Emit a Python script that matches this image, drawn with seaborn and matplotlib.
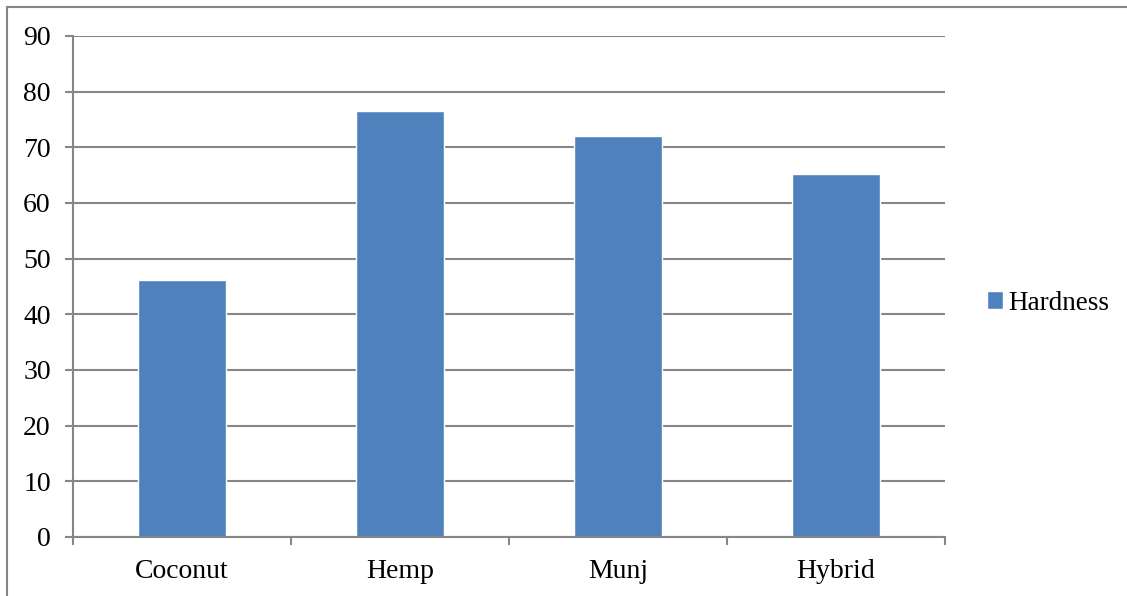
import matplotlib
matplotlib.use("Agg")
import matplotlib.pyplot as plt
from matplotlib.lines import Line2D
import seaborn as sns
import pandas as pd

categories = ["Coconut", "Hemp", "Munj", "Hybrid"]
hardness = [46.2, 76.5, 72.0, 65.2]
y_ticks = [0, 10, 20, 30, 40, 50, 60, 70, 80, 90]

df = pd.DataFrame({"Fibre": categories, "Hardness": hardness})

sns.set_theme(style="white")
plt.rcParams["font.family"] = ["Liberation Serif", "DejaVu Serif"]

grid_color = "#868686"
bar_color = "#4F81BD"
W, H = 1127, 596

fig = plt.figure(figsize=(W / 100, H / 100), dpi=100)
ax = fig.add_axes([73 / W, 1 - 537 / H, (945 - 73) / W, (537 - 36) / H])

sns.barplot(data=df, x="Fibre", y="Hardness", color=bar_color, width=0.40,
            saturation=1, ax=ax, label="Hardness")

ax.set_ylim(0, 90)
ax.set_xlim(-0.5, len(categories) - 0.5)
ax.set_yticks(y_ticks)
ax.set_yticklabels([str(v) for v in y_ticks], fontsize=20, color="black")
ax.set_xlabel("")
ax.set_ylabel("")
ax.yaxis.grid(True, color=grid_color, linewidth=1.5)
ax.set_axisbelow(True)

# category ticks sit on the boundaries between bars
ax.set_xticks([i + 0.5 for i in range(-1, len(categories))], minor=True)
ax.set_xticks(range(len(categories)))
ax.set_xticklabels(categories, fontsize=20, color="black")
ax.tick_params(axis="x", which="major", length=0, pad=16)
ax.tick_params(axis="x", which="minor", length=6, width=1.5, color=grid_color, direction="out", bottom=True)
ax.tick_params(axis="y", length=6, width=1.5, color=grid_color, direction="out", left=True, pad=10)

for side in ["top", "right"]:
    ax.spines[side].set_visible(False)
for side in ["left", "bottom"]:
    ax.spines[side].set_color(grid_color)
    ax.spines[side].set_linewidth(1.5)

ax.legend(loc="center left", bbox_to_anchor=(987 / W, 1 - 303 / H), bbox_transform=fig.transFigure,
          frameon=False, fontsize=19.5, handlelength=0.6, handleheight=0.6, handletextpad=0.2,
          borderpad=0, borderaxespad=0, labelcolor="black")

# chart-area border (top and left edges)
fig.add_artist(Line2D([6.5 / W, 6.5 / W], [0, 1 - 7 / H], transform=fig.transFigure,
                      color=grid_color, linewidth=1.5))
fig.add_artist(Line2D([6.5 / W, 1], [1 - 7 / H, 1 - 7 / H], transform=fig.transFigure,
                      color=grid_color, linewidth=1.5))

fig.savefig("out.png", dpi=100, facecolor="white")
